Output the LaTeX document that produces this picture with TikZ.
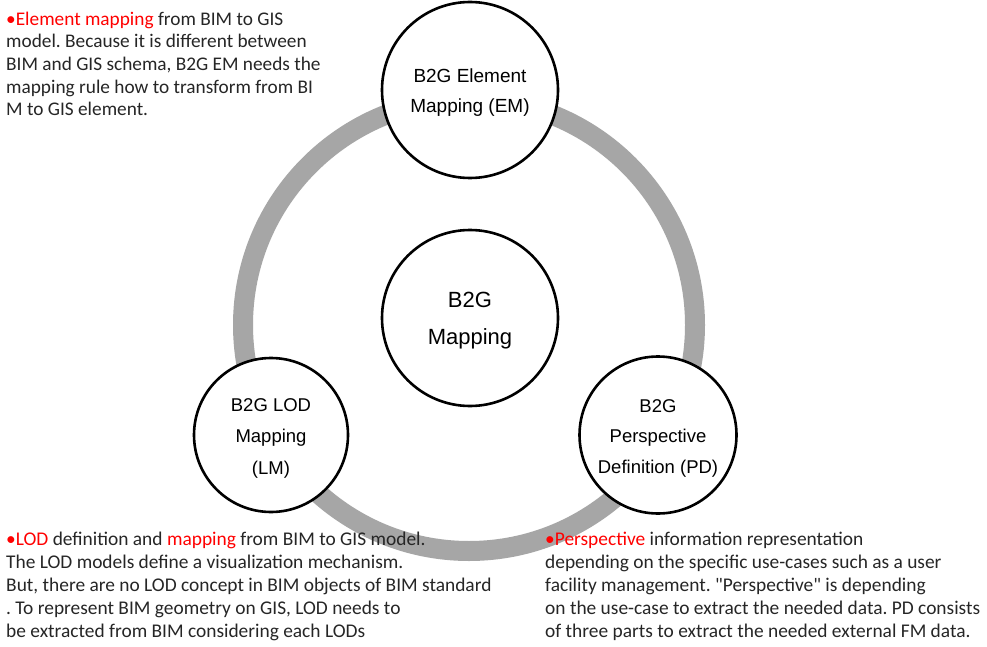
\documentclass[tikz,border=0pt]{standalone}
\usepackage{fontspec}
\setmainfont{Carlito}[Ligatures=TeXOff]
\newfontfamily\circfont{Liberation Sans}
\definecolor{ringgray}{HTML}{A6A6A6}
\definecolor{hired}{HTML}{FF0000}
\frenchspacing
\tikzset{
  ringnode/.style={circle, draw=black, line width=2.6pt, fill=white, inner sep=0pt},
  circtext/.style={align=center, inner sep=0pt, yshift=-3pt, font=\circfont\fontsize{19}{30}\selectfont},
  desc/.style={anchor=base west, align=left, inner sep=0pt, text=black!85, font=\fontsize{19.3}{22.7}\selectfont},
}
\newcommand{\hl}[1]{\textcolor{hired}{#1}}
\begin{document}
\begin{tikzpicture}[x=1pt,y=-1pt]
\useasboundingbox[fill=white] (0,0) rectangle (987,647);
\coordinate (ringc) at (469,325);
\draw[ringgray, line width=20pt] (ringc) circle[radius=226];
\node[ringnode, minimum size=176pt] (center) at (470,318) {};
\node[ringnode, minimum size=176pt] (em) at (470,90) {};
\node[ringnode, minimum size=154pt] (lm) at (271,435) {};
\node[ringnode, minimum size=157pt] (pd) at (658,435) {};
\node[circtext, font=\circfont\fontsize{22}{37}\selectfont] (centert) at (center) {B2G\\Mapping};
\node[circtext] (emt) at (em) {B2G Element\\Mapping (EM)};
\node[circtext, font=\circfont\fontsize{18.5}{31.5}\selectfont] (lmt) at (lm) {B2G LOD\\Mapping\\(LM)};
\node[circtext, font=\circfont\fontsize{18.5}{30.5}\selectfont] (pdt) at (pd) {B2G\\Perspective\\Definition (PD)};
\node[desc] (t1) at (6,116) {\hl{•Element mapping} from BIM to GIS\\model. Because it is different between\\BIM and GIS schema, B2G EM needs the\\mapping rule how to transform from BI\\M to GIS element.};
\node[desc, font=\fontsize{19.4}{23}\selectfont] (t2) at (6,637) {\hl{•LOD} definition and \hl{mapping} from BIM to GIS model.\\The LOD models define a visualization mechanism.\\But, there are no LOD concept in BIM objects of BIM standard\\. To represent BIM geometry on GIS, LOD needs to\\be extracted from BIM considering each LODs};
\node[desc, font=\fontsize{19.4}{23}\selectfont] (t3) at (545,637) {\hl{•Perspective} information representation\\depending on the specific use-cases such as a user\\facility management. "Perspective" is depending\\on the use-case to extract the needed data. PD consists\\of three parts to extract the needed external FM data.};
\end{tikzpicture}
\end{document}
